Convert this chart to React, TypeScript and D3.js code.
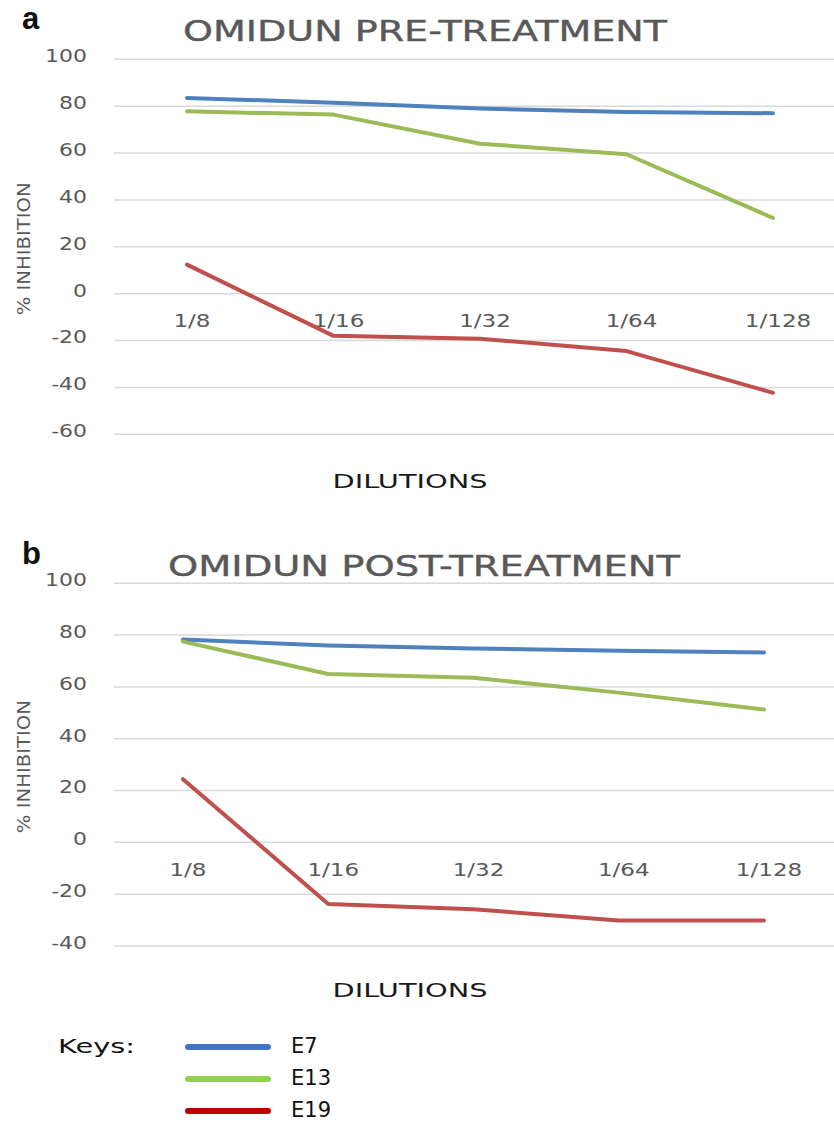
import * as d3 from "d3";

const dilutions = ["1/8", "1/16", "1/32", "1/64", "1/128"];
const seriesNames = ["E7", "E13", "E19"];

// panel a: pre-treatment
const preE7 = [83.5, 81.5, 79, 77.5, 77];
const preE13 = [77.8, 76.4, 64, 59.5, 32.3];
const preE19 = [12.4, -18, -19.2, -24.5, -42.3];
const preTicks = [100, 80, 60, 40, 20, 0, -20, -40, -60];

// panel b: post-treatment
const postE7 = [78.3, 76, 74.8, 74, 73.3];
const postE13 = [77.5, 65, 63.5, 57.8, 51.3];
const postE19 = [24.4, -23.8, -25.8, -30.2, -30.2];
const postTicks = [100, 80, 60, 40, 20, 0, -20, -40];

const LINE_COLORS = ["#4F81BD", "#9BBB59", "#C0504D"];
const KEY_COLORS = ["#4472C4", "#92D050", "#C00000"];
const GREY = "#595959";
const FONT = "'DejaVu Sans', sans-serif";

type PanelProps = {
  letter: string;
  title: string;
  titleX: number;
  titleY: number;
  titleLen: number;
  ticks: number[];
  yRange: [number, number];
  xRange: [number, number];
  values: number[][];
  dilutionY: number;
};

const Panel = ({ letter, title, titleX, titleY, titleLen, ticks, yRange, xRange, values, dilutionY }: PanelProps) => {
  const yScale = d3
    .scaleLinear()
    .domain([d3.min(ticks) as number, d3.max(ticks) as number])
    .range(yRange);
  const xScale = d3.scalePoint().domain(dilutions).range(xRange);
  const line = d3
    .line<number>()
    .x((_, i) => xScale(dilutions[i]) as number)
    .y((d) => yScale(d));

  const gridLeft = 114;
  const gridRight = 834;
  const midY = (yScale(ticks[0]) + yScale(ticks[ticks.length - 1])) / 2;

  return (
    <g>
      <text x={22} y={titleY - 12} fontFamily="'Liberation Sans', Arial, sans-serif" fontWeight="bold" fontSize={31} fill="#111">
        {letter}
      </text>
      <text
        x={titleX}
        y={titleY}
        fontFamily={FONT}
        fontSize={29}
        fill={GREY}
        stroke={GREY}
        strokeWidth={0.4}
        textLength={titleLen}
        lengthAdjust="spacingAndGlyphs"
      >
        {title}
      </text>
      {ticks.map((t) => (
        <g key={t}>
          <line x1={gridLeft} x2={gridRight} y1={yScale(t)} y2={yScale(t)} stroke="#d9d9d9" strokeWidth={1.5} />
          <text
            transform={`translate(87,${yScale(t) - 2}) scale(1.22,1)`}
            textAnchor="end"
            dominantBaseline="middle"
            fontFamily={FONT}
            fontSize={18}
            fill={GREY}
          >
            {t}
          </text>
        </g>
      ))}
      {dilutions.map((d) => (
        <text
          key={d}
          transform={`translate(${(xScale(d) as number) + 5},${yScale(0) + 28}) scale(1.28,1)`}
          textAnchor="middle"
          dominantBaseline="middle"
          fontFamily={FONT}
          fontSize={18}
          fill={GREY}
        >
          {d}
        </text>
      ))}
      <text
        transform={`translate(25,${midY + 2}) rotate(-90)`}
        textAnchor="middle"
        dominantBaseline="middle"
        fontFamily={FONT}
        fontSize={17}
        fill={GREY}
        textLength={133}
        lengthAdjust="spacingAndGlyphs"
      >
        % INHIBITION
      </text>
      {values.map((v, i) => (
        <path
          key={seriesNames[i]}
          d={line(v) ?? ""}
          fill="none"
          stroke={LINE_COLORS[i]}
          strokeWidth={4}
          strokeLinejoin="round"
          strokeLinecap="round"
        />
      ))}
      <text x={410} y={dilutionY} textAnchor="middle" fontFamily={FONT} fontSize={19} fill="#1a1a1a" textLength={155} lengthAdjust="spacingAndGlyphs">
        DILUTIONS
      </text>
    </g>
  );
};

export default function App() {
  const keyY = d3.scalePoint().domain(seriesNames).range([1047, 1111]);
  return (
    <div style={{ position: "absolute", left: 0, top: 0, background: "#fff" }}>
      <svg width={834} height={1122} style={{ display: "block" }}>
        <rect width={834} height={1122} fill="#fff" />
        <Panel
          letter="a"
          title="OMIDUN PRE-TREATMENT"
          titleX={183}
          titleY={41}
          titleLen={484}
          ticks={preTicks}
          yRange={[434.3, 59.3]}
          xRange={[187, 773]}
          values={[preE7, preE13, preE19]}
          dilutionY={488}
        />
        <Panel
          letter="b"
          title="OMIDUN POST-TREATMENT"
          titleX={168}
          titleY={576}
          titleLen={512}
          ticks={postTicks}
          yRange={[946, 583.3]}
          xRange={[183, 764]}
          values={[postE7, postE13, postE19]}
          dilutionY={997}
        />
        <text x={58} y={1047} dominantBaseline="middle" fontFamily={FONT} fontSize={20} fill="#111" textLength={77} lengthAdjust="spacingAndGlyphs">
          Keys:
        </text>
        {seriesNames.map((s, i) => (
          <g key={s}>
            <line
              x1={188}
              x2={268}
              y1={keyY(s) as number}
              y2={keyY(s) as number}
              stroke={KEY_COLORS[i]}
              strokeWidth={6}
              strokeLinecap="round"
            />
            <text x={291} y={keyY(s) as number} dominantBaseline="middle" fontFamily={FONT} fontSize={21} fill="#111">
              {s}
            </text>
          </g>
        ))}
      </svg>
    </div>
  );
}
